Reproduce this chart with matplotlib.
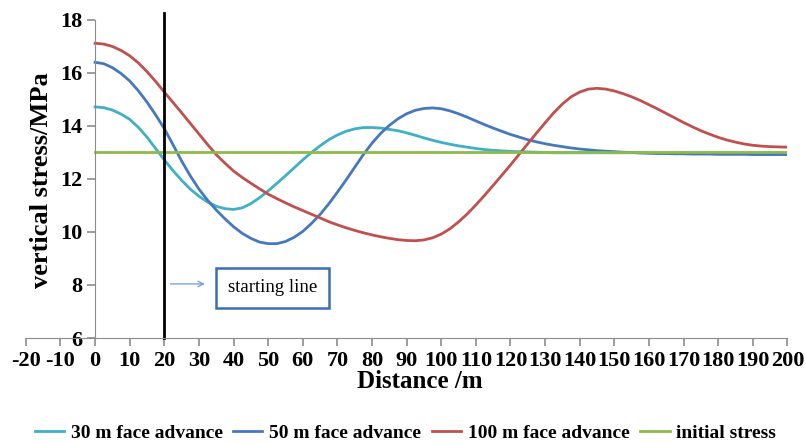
import matplotlib.pyplot as plt

# distance along the panel (m), read every 2.5 m
distance = [i * 2.5 for i in range(81)]

# vertical stress (MPa) for each face advance
advance_30 = [14.72, 14.69, 14.60, 14.45, 14.25, 13.95, 13.58, 13.15, 12.72, 12.32,
              11.95, 11.62, 11.35, 11.13, 10.97, 10.88, 10.85, 10.91, 11.07, 11.29,
              11.55, 11.83, 12.12, 12.42, 12.72, 13.00, 13.25, 13.48, 13.66, 13.80,
              13.89, 13.94, 13.94, 13.92, 13.87, 13.82, 13.74, 13.65, 13.55, 13.46,
              13.38, 13.31, 13.25, 13.20, 13.15, 13.11, 13.08, 13.06, 13.04, 13.03,
              13.02, 13.01, 13.00, 12.99, 12.99, 12.99, 12.99, 12.99, 12.99, 12.99,
              12.99, 12.99, 12.99, 12.99, 12.99, 12.98, 12.98, 12.98, 12.98, 12.98,
              12.98, 12.98, 12.98, 12.98, 12.98, 12.98, 12.98, 12.98, 12.98, 12.98,
              12.98]
advance_50 = [16.40, 16.35, 16.20, 15.98, 15.70, 15.33, 14.90, 14.42, 13.90, 13.30,
              12.68, 12.12, 11.62, 11.20, 10.83, 10.50, 10.20, 9.95, 9.76, 9.62,
              9.56, 9.56, 9.64, 9.80, 10.02, 10.32, 10.66, 11.06, 11.50, 11.96,
              12.44, 12.92, 13.35, 13.72, 14.02, 14.27, 14.46, 14.59, 14.66, 14.68,
              14.65, 14.57, 14.46, 14.33, 14.19, 14.05, 13.92, 13.80, 13.68, 13.58,
              13.48, 13.40, 13.33, 13.27, 13.22, 13.17, 13.13, 13.10, 13.07, 13.05,
              13.03, 13.01, 13.00, 12.98, 12.97, 12.96, 12.96, 12.95, 12.95, 12.94,
              12.94, 12.94, 12.93, 12.93, 12.93, 12.93, 12.92, 12.92, 12.92, 12.92,
              12.92]
advance_100 = [17.12, 17.09, 17.00, 16.85, 16.65, 16.38, 16.05, 15.68, 15.28, 14.89,
               14.50, 14.10, 13.70, 13.30, 12.92, 12.60, 12.30, 12.06, 11.84, 11.63,
               11.43, 11.26, 11.10, 10.95, 10.81, 10.67, 10.53, 10.39, 10.27, 10.16,
               10.06, 9.97, 9.89, 9.82, 9.76, 9.71, 9.68, 9.67, 9.70, 9.78,
               9.92, 10.12, 10.38, 10.68, 11.02, 11.38, 11.76, 12.14, 12.53, 12.93,
               13.33, 13.73, 14.12, 14.50, 14.83, 15.10, 15.28, 15.39, 15.42, 15.39,
               15.32, 15.22, 15.10, 14.96, 14.80, 14.64, 14.47, 14.30, 14.13, 13.97,
               13.82, 13.69, 13.57, 13.47, 13.39, 13.32, 13.27, 13.24, 13.22, 13.21,
               13.20]
initial_stress = [13.0] * len(distance)

labels = ["30 m face advance", "50 m face advance", "100 m face advance",
          "initial stress"]
colors = ["#3fb0c6", "#4678c0", "#c0504d", "#8cbb4a"]

serif = ["Liberation Serif", "DejaVu Serif"]
plt.rcParams["font.family"] = serif
plt.rcParams["axes.unicode_minus"] = False

fig = plt.figure(figsize=(8.06, 4.43), dpi=100)
ax = fig.add_axes([0.032, 0.237, 0.945, 0.718])

series = [advance_30, advance_50, advance_100, initial_stress]
for vals, lab, col in zip(series, labels, colors):
    ax.plot(distance, vals, color=col, lw=2.0, label=lab)

# starting line at 20 m
ax.plot([20, 20], [6, 18.25], color="black", lw=2.0, clip_on=False)
ax.annotate("", xy=(32.5, 8.04), xytext=(21, 8.04),
            arrowprops=dict(arrowstyle="->", color="#6a9fd0", lw=0.9))
ax.text(51.2, 7.89, "starting line", fontsize=13.5, ha="center", va="center",
        bbox=dict(boxstyle="square,pad=0.62", fc="white", ec="#3a6fb5", lw=1.8))

ax.set_xlim(-20, 200)
ax.set_ylim(6, 18)
ax.set_xticks(range(-20, 201, 10))
ax.set_yticks(range(6, 19, 2))

for s in ["top", "right"]:
    ax.spines[s].set_visible(False)
ax.spines["left"].set_position(("data", 0))
ax.spines["left"].set_color("#8c8c8c")
ax.spines["bottom"].set_color("#8c8c8c")
ax.tick_params(axis="both", colors="#8c8c8c", length=6, width=1.2, pad=3,
               labelcolor="black", labelsize=16)
for t in ax.get_xticklabels() + ax.get_yticklabels():
    t.set_fontweight("bold")

fig.text(0.521, 0.138, "Distance /m", fontsize=18, fontweight="bold",
         ha="center", va="center")
fig.text(0.051, 0.594, "vertical stress/MPa", fontsize=19, fontweight="bold",
         ha="center", va="center", rotation=90)

fig.legend(loc="center", bbox_to_anchor=(0.503, 0.023), ncol=4, frameon=False,
           handlelength=1.5, columnspacing=0.55, handletextpad=0.35,
           prop=dict(family=serif, weight="bold", size=14))

fig.savefig("out.png", dpi=100)
